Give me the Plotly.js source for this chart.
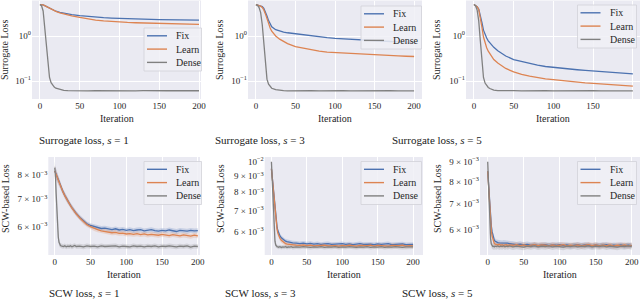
<!DOCTYPE html>
<html>
<head>
<meta charset="utf-8">
<script src="https://cdn.plot.ly/plotly-3.0.1.min.js"></script>
<style>html,body{margin:0;padding:0;background:#fff;}#chart{width:640px;height:305px;}</style>
</head>
<body>
<div id="chart"></div>
<script>
// ---------------- DATA ----------------
const seriesNames = ['Fix', 'Learn', 'Dense'];
const iterTicks = [0, 50, 100, 150, 200];

// Top row: surrogate loss (log scale)
const iterTop = [0,2,4,6,8,10,12,14,16,18,20,25,30,35,40,50,60,70,80,90,100,110,120,130,140,150,160,170,180,190,200];
const surS1Fix   = [5.0,5.0,4.9,4.75,4.55,4.35,4.15,3.95,3.8,3.65,3.55,3.35,3.2,3.1,3.0,2.85,2.72,2.62,2.55,2.5,2.45,2.42,2.38,2.35,2.33,2.31,2.3,2.29,2.28,2.27,2.26];
const surS1Learn = [5.0,5.0,4.9,4.75,4.55,4.35,4.15,3.95,3.8,3.65,3.52,3.28,3.08,2.93,2.8,2.58,2.4,2.26,2.16,2.09,2.04,2.0,1.97,1.95,1.93,1.91,1.89,1.87,1.85,1.84,1.82];
const surS1Dense = [5.0,4.7,3.6,1.6,0.6,0.22,0.12,0.092,0.08,0.073,0.069,0.065,0.062,0.0612,0.0606,0.061,0.0604,0.0612,0.0607,0.0611,0.0605,0.0612,0.0606,0.061,0.0604,0.0611,0.0607,0.0612,0.0605,0.061,0.0607];
const surS3Fix   = [5.0,4.9,4.8,4.7,4.5,4.1,3.5,2.8,2.2,1.85,1.6,1.38,1.28,1.22,1.18,1.12,1.05,1.0,0.96,0.92,0.89,0.865,0.84,0.82,0.8,0.785,0.77,0.755,0.74,0.73,0.72];
const surS3Learn = [5.0,4.9,4.8,4.6,4.3,3.8,3.1,2.4,1.85,1.5,1.28,1.0,0.85,0.75,0.68,0.58,0.53,0.49,0.46,0.44,0.43,0.415,0.40,0.39,0.385,0.378,0.37,0.365,0.36,0.355,0.35];
const surS3Dense = [5.0,4.8,4.3,3.3,1.8,0.6,0.2,0.11,0.085,0.074,0.069,0.064,0.0615,0.0608,0.0604,0.061,0.0605,0.0611,0.0604,0.061,0.0606,0.0611,0.0604,0.0609,0.0605,0.0611,0.0606,0.061,0.0604,0.0609,0.0606];
const surS5Fix   = [5.0,4.8,4.5,4.0,3.0,2.0,1.35,1.05,0.9,0.78,0.7,0.56,0.47,0.41,0.36,0.30,0.27,0.245,0.225,0.21,0.20,0.192,0.185,0.178,0.172,0.167,0.162,0.157,0.152,0.148,0.144];
const surS5Learn = [5.0,4.8,4.5,3.9,2.7,1.6,0.95,0.68,0.55,0.46,0.40,0.30,0.25,0.215,0.19,0.16,0.14,0.128,0.118,0.112,0.107,0.102,0.098,0.094,0.091,0.089,0.086,0.083,0.081,0.079,0.077];
const surS5Dense = [5.0,4.7,3.8,2.2,0.8,0.25,0.12,0.09,0.078,0.072,0.068,0.063,0.0612,0.0606,0.0603,0.0609,0.0604,0.061,0.0605,0.0611,0.0604,0.0609,0.0606,0.0611,0.0604,0.061,0.0605,0.0611,0.0604,0.0609,0.0606];

// Bottom row: SCW loss, values in units of 1e-3 (log scale)
const iterBot = [0,1,2,3,4,5,6,7,8,9,10,12,14,16,18,20,22,24,26,28,30,35,40,45,50,55,60,65,70,75,80,85,90,95,100,105,110,115,120,125,130,135,140,145,150,155,160,165,170,175,180,185,190,195,200];
const scwS1Fix   = [8.2,8.15,8.06,7.97,7.88,7.79,7.7,7.62,7.55,7.47,7.4,7.27,7.15,7.04,6.94,6.85,6.76,6.68,6.6,6.53,6.46,6.32,6.2,6.1,6.04,6.0,5.97,5.94,5.95,5.92,5.9,5.93,5.89,5.91,5.88,5.9,5.87,5.89,5.9,5.86,5.88,5.9,5.87,5.85,5.88,5.86,5.89,5.87,5.84,5.88,5.86,5.85,5.88,5.86,5.87];
const scwS1Learn = [8.2,8.14,8.05,7.96,7.87,7.78,7.69,7.61,7.54,7.46,7.39,7.26,7.14,7.03,6.93,6.84,6.75,6.67,6.59,6.52,6.45,6.3,6.17,6.07,6.0,5.94,5.9,5.86,5.84,5.82,5.8,5.81,5.78,5.79,5.76,5.77,5.75,5.77,5.74,5.76,5.73,5.75,5.74,5.72,5.75,5.73,5.71,5.74,5.72,5.7,5.73,5.71,5.69,5.72,5.7];
const scwS1Dense = [8.35,8.0,7.2,6.45,5.95,5.65,5.5,5.43,5.4,5.39,5.38,5.37,5.39,5.36,5.38,5.37,5.39,5.36,5.38,5.4,5.37,5.38,5.36,5.39,5.37,5.38,5.36,5.39,5.37,5.38,5.37,5.39,5.36,5.38,5.37,5.36,5.39,5.37,5.38,5.36,5.38,5.37,5.39,5.36,5.38,5.37,5.39,5.38,5.36,5.38,5.37,5.39,5.35,5.38,5.37];
const scwS3Fix   = [9.5,9.0,8.45,7.9,7.4,7.0,6.65,6.4,6.2,6.05,5.95,5.82,5.74,5.68,5.64,5.6,5.58,5.56,5.55,5.54,5.53,5.52,5.5,5.52,5.49,5.51,5.48,5.5,5.47,5.49,5.5,5.47,5.49,5.48,5.5,5.47,5.49,5.46,5.48,5.5,5.47,5.49,5.48,5.46,5.49,5.47,5.48,5.5,5.46,5.48,5.47,5.49,5.46,5.48,5.47];
const scwS3Learn = [9.5,8.95,8.35,7.8,7.3,6.9,6.55,6.3,6.1,5.95,5.85,5.72,5.64,5.58,5.54,5.5,5.48,5.47,5.46,5.45,5.45,5.44,5.43,5.45,5.42,5.44,5.41,5.43,5.42,5.44,5.41,5.43,5.42,5.4,5.43,5.41,5.44,5.42,5.4,5.43,5.41,5.42,5.44,5.4,5.43,5.41,5.42,5.4,5.43,5.41,5.42,5.44,5.4,5.42,5.41];
const scwS3Dense = [10.0,8.9,7.6,6.6,5.95,5.6,5.45,5.4,5.38,5.37,5.36,5.38,5.35,5.37,5.36,5.38,5.35,5.37,5.36,5.38,5.35,5.37,5.36,5.38,5.36,5.35,5.37,5.36,5.38,5.35,5.37,5.36,5.38,5.35,5.37,5.36,5.38,5.36,5.35,5.37,5.36,5.38,5.35,5.37,5.36,5.38,5.35,5.37,5.36,5.38,5.36,5.35,5.37,5.36,5.37];
const scwS5Fix   = [8.5,7.9,7.3,6.8,6.45,6.15,5.95,5.82,5.72,5.66,5.62,5.58,5.57,5.56,5.56,5.55,5.56,5.55,5.54,5.55,5.53,5.52,5.5,5.52,5.49,5.51,5.48,5.5,5.47,5.49,5.5,5.47,5.49,5.48,5.5,5.47,5.49,5.46,5.48,5.5,5.47,5.49,5.48,5.46,5.49,5.47,5.48,5.5,5.46,5.48,5.47,5.49,5.46,5.48,5.47];
const scwS5Learn = [8.5,7.85,7.2,6.7,6.3,6.0,5.8,5.68,5.6,5.55,5.52,5.5,5.49,5.51,5.48,5.5,5.47,5.49,5.5,5.47,5.49,5.48,5.5,5.47,5.49,5.46,5.48,5.5,5.47,5.49,5.48,5.46,5.49,5.47,5.48,5.5,5.46,5.48,5.47,5.49,5.46,5.48,5.5,5.47,5.49,5.46,5.48,5.47,5.49,5.45,5.48,5.47,5.49,5.46,5.48];
const scwS5Dense = [9.0,7.9,6.85,6.1,5.7,5.52,5.46,5.44,5.45,5.43,5.45,5.44,5.46,5.43,5.45,5.44,5.46,5.43,5.45,5.44,5.46,5.43,5.45,5.44,5.42,5.45,5.44,5.46,5.43,5.45,5.44,5.46,5.43,5.45,5.44,5.42,5.45,5.44,5.46,5.43,5.45,5.44,5.46,5.43,5.45,5.44,5.46,5.43,5.45,5.44,5.42,5.45,5.44,5.46,5.44];

// Spread (half-width of shaded band), units 1e-3
const scwS1SpreadFL = [0.25,0.24,0.22,0.2,0.18,0.17,0.16,0.15,0.14,0.14,0.13,0.12,0.12,0.11,0.11,0.1,0.1,0.1,0.1,0.09,0.09,0.09,0.09,0.08,0.08,0.08,0.08,0.08,0.08,0.08,0.08,0.08,0.08,0.08,0.08,0.08,0.08,0.08,0.08,0.08,0.08,0.08,0.08,0.08,0.08,0.08,0.08,0.08,0.08,0.08,0.08,0.08,0.08,0.08,0.08];
const scwS1SpreadD  = [0.3,0.35,0.35,0.3,0.22,0.14,0.1,0.08,0.07,0.07,0.07,0.07,0.07,0.07,0.07,0.07,0.07,0.07,0.07,0.07,0.07,0.07,0.07,0.07,0.07,0.07,0.07,0.07,0.07,0.07,0.07,0.07,0.07,0.07,0.07,0.07,0.07,0.07,0.07,0.07,0.07,0.07,0.07,0.07,0.07,0.07,0.07,0.07,0.07,0.07,0.07,0.07,0.07,0.07,0.07];
const scwS3SpreadFL = [0.4,0.38,0.35,0.3,0.27,0.24,0.2,0.17,0.15,0.13,0.12,0.1,0.1,0.09,0.09,0.09,0.09,0.09,0.09,0.09,0.09,0.09,0.09,0.09,0.09,0.09,0.09,0.09,0.09,0.09,0.09,0.09,0.09,0.09,0.09,0.09,0.09,0.09,0.09,0.09,0.09,0.09,0.09,0.09,0.09,0.09,0.09,0.09,0.09,0.09,0.09,0.09,0.09,0.09,0.09];
const scwS3SpreadD  = [0.3,0.45,0.4,0.3,0.2,0.14,0.1,0.08,0.08,0.08,0.08,0.08,0.08,0.08,0.08,0.08,0.08,0.08,0.08,0.08,0.08,0.08,0.08,0.08,0.08,0.08,0.08,0.08,0.08,0.08,0.08,0.08,0.08,0.08,0.08,0.08,0.08,0.08,0.08,0.08,0.08,0.08,0.08,0.08,0.08,0.08,0.08,0.08,0.08,0.08,0.08,0.08,0.08,0.08,0.08];
const scwS5SpreadFL = [0.3,0.3,0.28,0.25,0.2,0.16,0.13,0.11,0.1,0.1,0.09,0.09,0.09,0.09,0.09,0.09,0.09,0.09,0.09,0.09,0.09,0.09,0.09,0.09,0.09,0.09,0.09,0.09,0.09,0.09,0.09,0.09,0.09,0.09,0.09,0.09,0.09,0.09,0.09,0.09,0.09,0.09,0.09,0.09,0.09,0.09,0.09,0.09,0.09,0.09,0.09,0.09,0.09,0.09,0.09];
const scwS5SpreadD  = [0.35,0.45,0.4,0.25,0.15,0.1,0.1,0.1,0.1,0.1,0.1,0.1,0.1,0.1,0.1,0.1,0.1,0.1,0.1,0.1,0.1,0.1,0.1,0.1,0.1,0.1,0.1,0.1,0.1,0.1,0.1,0.1,0.1,0.1,0.1,0.1,0.1,0.1,0.1,0.1,0.1,0.1,0.1,0.1,0.1,0.1,0.1,0.1,0.1,0.1,0.1,0.1,0.1,0.1,0.1];

const captionsTop = ['Surrogate loss, <i>s</i> = 1', 'Surrogate loss, <i>s</i> = 3', 'Surrogate loss, <i>s</i> = 5'];
const captionsBot = ['SCW loss, <i>s</i> = 1', 'SCW loss, <i>s</i> = 3', 'SCW loss, <i>s</i> = 5'];

// ---------------- STYLE ----------------
const FONT = "Liberation Serif";
const TXT = '#262626';
const COLORS = ['#4C72B0', '#DD8452', '#808080'];
const BANDS = ['rgba(76,114,176,0.22)', 'rgba(221,132,82,0.22)', 'rgba(128,128,128,0.22)'];
const W = 640, H = 305;
const px = v => v / W, py = v => 1 - v / H;

const panels = [
  {x: iterTop, ys: [surS1Fix, surS1Learn, surS1Dense], dom: [32, 201, 0.5, 99], xr: [-10, 202.5], yr: [-1.4, 0.789], top: true, leg: [144, 28, 201.5]},
  {x: iterTop, ys: [surS3Fix, surS3Learn, surS3Dense], dom: [248, 422, 0.5, 99], xr: [-10, 210], yr: [-1.4, 0.789], top: true, leg: [361, 6, 421.5]},
  {x: iterTop, ys: [surS5Fix, surS5Learn, surS5Dense], dom: [466, 640, 0.5, 99], xr: [-10, 209], yr: [-1.4, 0.789], top: true, leg: [577.5, 5, 636.5]},
  {x: iterBot, ys: [scwS1Fix, scwS1Learn, scwS1Dense], sp: [scwS1SpreadFL, scwS1SpreadFL, scwS1SpreadD], dom: [48.3, 200, 157, 255], xr: [-9, 203], yr: [0.7093, 0.9476], tv: [6, 7, 8], leg: [144, 161.5, 201.5]},
  {x: iterBot, ys: [scwS3Fix, scwS3Learn, scwS3Dense], sp: [scwS3SpreadFL, scwS3SpreadFL, scwS3SpreadD], dom: [264.7, 423, 157, 255], xr: [-9.5, 214], yr: [0.7044, 1.015], tv: [6, 7, 8, 9, 10], leg: [361, 161.5, 421.5]},
  {x: iterBot, ys: [scwS5Fix, scwS5Learn, scwS5Dense], sp: [scwS5SpreadFL, scwS5SpreadFL, scwS5SpreadD], dom: [480, 640, 157, 255], xr: [-10.7, 211.5], yr: [0.7137, 0.9663], tv: [6, 7, 8, 9], leg: [577.5, 161.5, 636.5]},
];

const traces = [];
const layout = {
  width: W, height: H,
  margin: {l: 0, r: 0, t: 0, b: 0},
  paper_bgcolor: '#ffffff',
  plot_bgcolor: '#EAEAF2',
  font: {family: FONT, color: TXT, size: 10},
  annotations: [],
  shapes: [],
  showlegend: false,
};

panels.forEach((p, i) => {
  const n = i + 1;
  const xa = n === 1 ? 'x' : 'x' + n, ya = n === 1 ? 'y' : 'y' + n;
  if (p.sp) {
    p.ys.forEach((ys, k) => {
      const up = ys.map((v, j) => v + p.sp[k][j]);
      const lo = ys.map((v, j) => v - p.sp[k][j]);
      traces.push({
        x: p.x.concat(p.x.slice().reverse()),
        y: up.concat(lo.slice().reverse()),
        xaxis: xa, yaxis: ya, type: 'scatter', mode: 'lines',
        fill: 'toself', fillcolor: BANDS[k], line: {width: 0, color: BANDS[k]},
        hoverinfo: 'skip', showlegend: false,
      });
    });
  }
  p.ys.forEach((ys, k) => {
    traces.push({
      x: p.x, y: ys, xaxis: xa, yaxis: ya, type: 'scatter', mode: 'lines',
      name: seriesNames[k], line: {color: COLORS[k], width: 1.3}, showlegend: false,
    });
  });
  const [l, r, t, b] = p.dom;
  layout[n === 1 ? 'xaxis' : 'xaxis' + n] = {
    domain: [px(l), px(r)], anchor: ya, range: p.xr,
    tickmode: 'array', tickvals: iterTicks, ticktext: iterTicks.map(String),
    showgrid: true, gridcolor: '#ffffff', gridwidth: 1, zeroline: false, showline: false,
    ticks: '', tickfont: {size: 9, family: FONT, color: TXT},
  };
  const yax = {
    domain: [py(b), py(t)], anchor: xa, type: 'log', range: p.yr,
    zeroline: false, showline: false, ticks: '',
    tickfont: {size: 9, family: FONT, color: TXT},
    tickmode: 'array',
  };
  if (p.top) {
    yax.tickvals = [0.1, 1];
    yax.ticktext = ['10<sup>−1</sup>', '10<sup>0</sup>'];
    yax.showgrid = true; yax.gridcolor = '#ffffff'; yax.gridwidth = 1;
  } else {
    yax.tickvals = p.tv;
    yax.ticktext = p.tv.map(v => v === 10 ? '10<sup>−2</sup>' : v + ' × 10<sup>−3</sup>');
    yax.showgrid = false;
  }
  layout[n === 1 ? 'yaxis' : 'yaxis' + n] = yax;

  // legend box (layout decoration)
  const [lx0, ly0, lx1] = p.leg;
  layout.shapes.push({
    type: 'rect', xref: 'paper', yref: 'paper',
    x0: px(lx0), x1: px(lx1), y0: py(ly0), y1: py(ly0 + 43),
    fillcolor: 'rgba(240,240,246,0.85)', line: {color: '#d2d2d8', width: 0.8}, layer: 'above',
  });
  seriesNames.forEach((nm, k) => {
    const ry = ly0 + 7.8 + k * 13.3;
    layout.shapes.push({
      type: 'line', xref: 'paper', yref: 'paper',
      x0: px(lx0 + 3), x1: px(lx0 + 23), y0: py(ry), y1: py(ry),
      line: {color: COLORS[k], width: 1.4}, layer: 'above',
    });
    layout.annotations.push({
      xref: 'paper', yref: 'paper', x: px(lx0 + 30), y: py(ry), text: nm,
      showarrow: false, xanchor: 'left', yanchor: 'middle',
      font: {family: FONT, size: 10, color: TXT},
    });
  });

  // x-axis titles
  const cx = (l + r) / 2;
  layout.annotations.push({
    xref: 'paper', yref: 'paper', x: px(cx), y: py(p.top ? 118.5 : 274.5),
    text: 'Iteration', showarrow: false, xanchor: 'center', yanchor: 'middle',
    font: {family: FONT, size: 10, color: TXT},
  });
});

const yTitleX = [5, 220, 437];
yTitleX.forEach((x) => {
  layout.annotations.push({xref: 'paper', yref: 'paper', x: px(x), y: py(50), text: 'Surrogate Loss', textangle: -90, showarrow: false, xanchor: 'center', yanchor: 'middle', font: {family: FONT, size: 10, color: TXT}});
  layout.annotations.push({xref: 'paper', yref: 'paper', x: px(x), y: py(199), text: 'SCW-based Loss', textangle: -90, showarrow: false, xanchor: 'center', yanchor: 'middle', font: {family: FONT, size: 10, color: TXT}});
});
const capX = [84, 260, 437];
capX.forEach((x, k) => {
  layout.annotations.push({xref: 'paper', yref: 'paper', x: px(x), y: py(140), text: captionsTop[k], showarrow: false, xanchor: 'center', yanchor: 'middle', font: {family: FONT, size: 11, color: '#1a1a1a'}});
  layout.annotations.push({xref: 'paper', yref: 'paper', x: px(x), y: py(292.5), text: captionsBot[k], showarrow: false, xanchor: 'center', yanchor: 'middle', font: {family: FONT, size: 11, color: '#1a1a1a'}});
});

Plotly.newPlot('chart', traces, layout, {displayModeBar: false});
</script>
</body>
</html>
